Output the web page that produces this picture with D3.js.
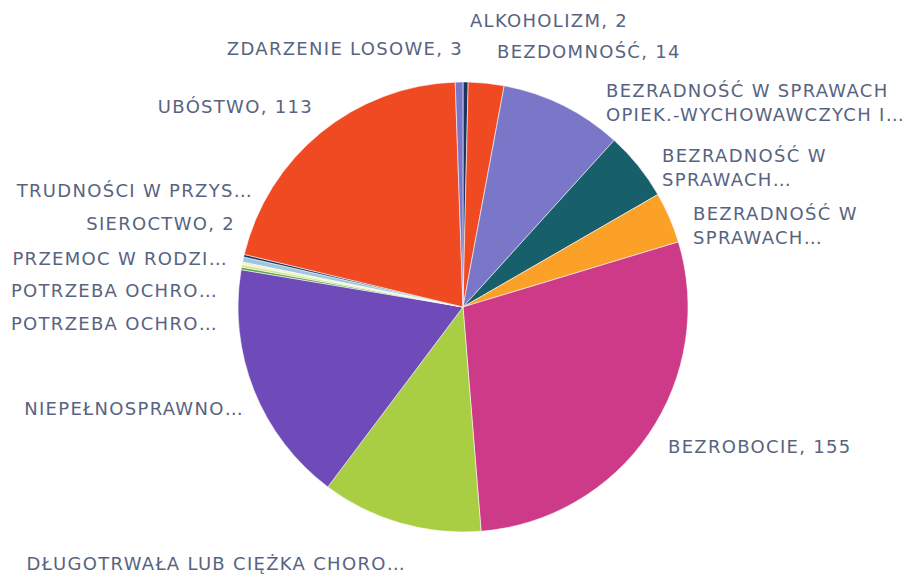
<!DOCTYPE html>
<html>
<head>
<meta charset="utf-8">
<script src="https://cdn.jsdelivr.net/npm/d3@7"></script>
<style>
  body { margin: 0; background: #fff; }
  svg { display: block; }
  .lbl { font-family: "DejaVu Sans", sans-serif; font-size: 18px; letter-spacing: 1.3px; fill: #58647f; }
</style>
</head>
<body>
<div id="chart"></div>
<script>
// categories (as printed on the chart, "|" splits lines)
var categories = [
    'ALKOHOLIZM, 2',
    'BEZDOMNOŚĆ, 14',
    'BEZRADNOŚĆ W SPRAWACH|OPIEK.-WYCHOWAWCZYCH I…',
    'BEZRADNOŚĆ W|SPRAWACH…',
    'BEZRADNOŚĆ W|SPRAWACH…',
    'BEZROBOCIE, 155',
    'DŁUGOTRWAŁA LUB CIĘŻKA CHORO…',
    'NIEPEŁNOSPRAWNO…',
    'POTRZEBA OCHRO…',
    'POTRZEBA OCHRO…',
    'PRZEMOC W RODZI…',
    'SIEROCTWO, 2',
    'TRUDNOŚCI W PRZYS…',
    'UBÓSTWO, 113',
    'ZDARZENIE LOSOWE, 3'
];
var values = [2, 14, 48, 27, 20, 155, 63, 95, 1, 1, 1, 2, 1, 113, 3];

// palette repeats after 12 colours
var palette = ['#1d3461', '#f04a23', '#7b77c8', '#17606b', '#fca127', '#cc3a88',
               '#a9cd43', '#6e4bb9', '#5aa747', '#cfe38a', '#f6f0c4', '#9cc7e0'];

// label anchors: [x, baseline y, text-anchor]
var labelAt = [
    [470, 27, 'start'],
    [497, 58, 'start'],
    [606, 97, 'start'],
    [662, 162, 'start'],
    [693, 220, 'start'],
    [668, 453, 'start'],
    [406, 570, 'end'],
    [244, 415, 'end'],
    [218, 330, 'end'],
    [218, 297, 'end'],
    [228, 265, 'end'],
    [235, 230, 'end'],
    [253, 197, 'end'],
    [313, 113, 'end'],
    [463, 55, 'end']
];

var width = 917, height = 575;
var cx = 463, cy = 307, radius = 225;
var line_h = 24;

var svg = d3.select('#chart')
    .append('svg')
    .attr('width', width)
    .attr('height', height);

var data = categories.map(function(c, i) {
    return {name: c, value: values[i], idx: i};
});

var pie = d3.pie()
    .sort(null)
    .value(function(d) { return d.value; });

var arc = d3.arc()
    .innerRadius(0)
    .outerRadius(radius);

var color = d3.scaleOrdinal()
    .domain(d3.range(categories.length))
    .range(palette);

var g = svg.append('g')
    .attr('transform', 'translate(' + cx + ',' + cy + ')');

g.selectAll('path')
    .data(pie(data))
    .enter()
    .append('path')
    .attr('d', arc)
    .style('fill', function(d) { return color(d.data.idx); })
    .style('stroke', '#ffffff')
    .style('stroke-opacity', 0.7)
    .style('stroke-width', 0.8);

//slice labels
var labels = svg.selectAll('.lbl')
    .data(data)
    .enter()
    .append('text')
    .attr('class', 'lbl')
    .attr('x', function(d) { return labelAt[d.idx][0]; })
    .attr('y', function(d) { return labelAt[d.idx][1]; })
    .style('text-anchor', function(d) { return labelAt[d.idx][2]; });

labels.each(function(d) {
    var lines = d.name.split('|');
    var t = d3.select(this);
    lines.forEach(function(l, k) {
        t.append('tspan')
            .attr('x', labelAt[d.idx][0])
            .attr('dy', k == 0 ? 0 : line_h)
            .text(l);
    });
});
</script>
</body>
</html>
